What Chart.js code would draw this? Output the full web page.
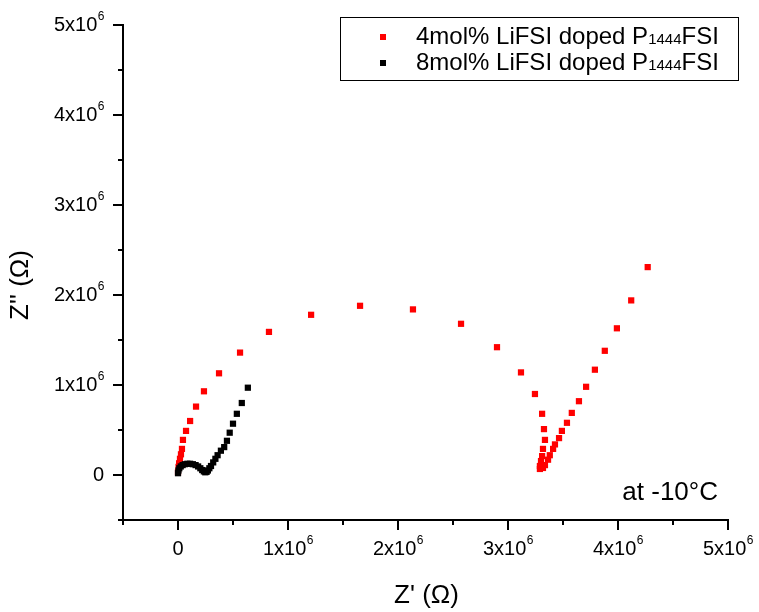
<!DOCTYPE html>
<html>
<head>
<meta charset="utf-8">
<script src="https://cdn.jsdelivr.net/npm/chart.js@4/dist/chart.umd.min.js"></script>
<style>
  body { margin: 0; background: #fff; }
</style>
</head>
<body>
<canvas id="nyquist" width="759" height="612"></canvas>
<script>
// 4mol% LiFSI doped P1444FSI, Z' and Z'' in ohm
var redZre = [0.000e6, 0.005e6, 0.010e6, 0.018e6, 0.027e6, 0.036e6, 0.045e6, 0.073e6, 0.110e6, 0.164e6,
              0.236e6, 0.373e6, 0.564e6, 0.827e6, 1.210e6, 1.655e6, 2.136e6, 2.573e6, 2.900e6, 3.118e6,
              3.245e6, 3.310e6, 3.327e6, 3.336e6, 3.318e6, 3.310e6, 3.300e6, 3.290e6, 3.290e6, 3.318e6,
              3.336e6, 3.364e6, 3.380e6, 3.410e6, 3.427e6, 3.464e6, 3.490e6, 3.536e6, 3.580e6, 3.645e6,
              3.710e6, 3.790e6, 3.880e6, 3.990e6, 4.120e6, 4.270e6];
var redZim = [0.030e6, 0.090e6, 0.130e6, 0.180e6, 0.230e6, 0.290e6, 0.390e6, 0.490e6, 0.600e6, 0.760e6,
              0.930e6, 1.130e6, 1.360e6, 1.590e6, 1.780e6, 1.880e6, 1.840e6, 1.680e6, 1.420e6, 1.140e6,
              0.900e6, 0.680e6, 0.510e6, 0.390e6, 0.290e6, 0.210e6, 0.155e6, 0.100e6, 0.067e6, 0.078e6,
              0.110e6, 0.170e6, 0.220e6, 0.290e6, 0.340e6, 0.410e6, 0.490e6, 0.580e6, 0.690e6, 0.820e6,
              0.980e6, 1.170e6, 1.380e6, 1.630e6, 1.940e6, 2.310e6];

// 8mol% LiFSI doped P1444FSI
var blackZre = [0.000e6, 0.004e6, 0.012e6, 0.025e6, 0.042e6, 0.062e6, 0.085e6, 0.110e6, 0.135e6, 0.160e6,
                0.183e6, 0.203e6, 0.220e6, 0.235e6, 0.248e6, 0.260e6, 0.272e6, 0.285e6, 0.300e6, 0.320e6,
                0.340e6, 0.360e6, 0.390e6, 0.420e6, 0.445e6, 0.470e6, 0.500e6, 0.535e6, 0.580e6, 0.635e6];
var blackZim = [0.020e6, 0.050e6, 0.075e6, 0.095e6, 0.110e6, 0.120e6, 0.125e6, 0.125e6, 0.120e6, 0.110e6,
                0.095e6, 0.075e6, 0.055e6, 0.040e6, 0.030e6, 0.035e6, 0.050e6, 0.075e6, 0.100e6, 0.140e6,
                0.180e6, 0.220e6, 0.270e6, 0.310e6, 0.380e6, 0.470e6, 0.570e6, 0.680e6, 0.800e6, 0.970e6];

var seriesLabels = ['4mol% LiFSI doped P', '8mol% LiFSI doped P'];
var seriesSub = '1444';
var seriesTail = 'FSI';
var axisMin = -0.5e6, axisMax = 5e6, axisStep = 0.5e6;
var xTitle = "Z' (\u03A9)", yTitle = "Z'' (\u03A9)";
var note = 'at -10\u00B0C';

function toPoints(xs, ys) {
    var pts = [];
    for (var i = 0; i < xs.length; i++) pts.push({x: xs[i], y: ys[i]});
    return pts;
}

var FONT = '"Liberation Sans", Arial, sans-serif';

function isMajor(v) { return Math.abs(v % 1e6) < 1; }

function drawSci(ctx, v, x, y, align) {
    var m = Math.round(v / 1e6);
    ctx.textBaseline = 'middle';
    ctx.textAlign = 'left';
    ctx.font = '20px ' + FONT;
    if (m === 0) {
        var w0 = ctx.measureText('0').width;
        ctx.fillText('0', align === 'right' ? x - w0 : x - w0 / 2, y);
        return;
    }
    var base = m + 'x10';
    var wb = ctx.measureText(base).width;
    ctx.font = '12px ' + FONT;
    var ws = ctx.measureText('6').width;
    var start = align === 'right' ? x - wb - ws : x - (wb + ws) / 2;
    ctx.font = '20px ' + FONT;
    ctx.fillText(base, start, y);
    ctx.font = '12px ' + FONT;
    ctx.fillText('6', start + wb + 0.5, y - 8);
}

var extras = {
    id: 'extras',
    afterDraw: function(chart) {
        var ctx = chart.ctx;
        var xs = chart.scales.x, ys = chart.scales.y;
        ctx.save();
        ctx.strokeStyle = '#000';
        ctx.fillStyle = '#000';
        ctx.lineWidth = 2;

        // tick marks: long at whole millions, short in between
        ctx.beginPath();
        xs.ticks.forEach(function(t) {
            var px = Math.round(xs.getPixelForValue(t.value));
            ctx.moveTo(px, ys.bottom);
            ctx.lineTo(px, ys.bottom + (isMajor(t.value) ? 10 : 5));
        });
        ys.ticks.forEach(function(t) {
            var py = Math.round(ys.getPixelForValue(t.value));
            ctx.moveTo(xs.left, py);
            ctx.lineTo(xs.left - (isMajor(t.value) ? 10 : 5), py);
        });
        ctx.stroke();

        xs.ticks.forEach(function(t) {
            if (isMajor(t.value)) drawSci(ctx, t.value, xs.getPixelForValue(t.value), ys.bottom + 29, 'center');
        });
        ys.ticks.forEach(function(t) {
            if (isMajor(t.value)) drawSci(ctx, t.value, xs.left - 19, ys.getPixelForValue(t.value), 'right');
        });

        // axis titles
        ctx.font = '26px ' + FONT;
        ctx.textAlign = 'center';
        ctx.textBaseline = 'middle';
        ctx.fillText(xTitle, (xs.left + xs.right) / 2 + 1, 596);
        ctx.save();
        ctx.translate(21, 285);
        ctx.rotate(-Math.PI / 2);
        ctx.fillText(yTitle, 0, 0);
        ctx.restore();

        // legend box
        var bx = 340, by = 17, bw = 398, bh = 63;
        ctx.lineWidth = 1;
        ctx.strokeRect(bx + 0.5, by + 0.5, bw, bh);
        chart.data.datasets.forEach(function(ds, i) {
            var ry = by + 20 + i * 26;
            ctx.fillStyle = ds.backgroundColor;
            ctx.fillRect(380, ry - 3, 6, 6);
            ctx.fillStyle = '#000';
            ctx.textBaseline = 'middle';
            ctx.textAlign = 'left';
            ctx.font = '24px ' + FONT;
            var tx = 416;
            ctx.fillText(seriesLabels[i], tx, ry);
            tx += ctx.measureText(seriesLabels[i]).width;
            ctx.font = '15px ' + FONT;
            ctx.fillText(seriesSub, tx, ry + 3);
            tx += ctx.measureText(seriesSub).width;
            ctx.font = '24px ' + FONT;
            ctx.fillText(seriesTail, tx, ry);
        });

        ctx.font = '26px ' + FONT;
        ctx.textAlign = 'right';
        ctx.fillText(note, 718, 493);
        ctx.restore();
    }
};

var axisCommon = {
    type: 'linear',
    min: axisMin,
    max: axisMax,
    ticks: { display: false, stepSize: axisStep },
    grid: { display: false },
    border: { display: true, color: '#000', width: 2 }
};

new Chart(document.getElementById('nyquist').getContext('2d'), {
    type: 'scatter',
    data: {
        datasets: [
            {
                label: '4mol% LiFSI doped P1444FSI',
                data: toPoints(redZre, redZim),
                backgroundColor: '#ff0000',
                pointStyle: 'rect',
                pointRadius: 4.4,
                pointBorderWidth: 0,
                order: 1
            },
            {
                label: '8mol% LiFSI doped P1444FSI',
                data: toPoints(blackZre, blackZim),
                backgroundColor: '#000000',
                pointStyle: 'rect',
                pointRadius: 4.4,
                pointBorderWidth: 0,
                order: 0
            }
        ]
    },
    options: {
        responsive: false,
        animation: false,
        layout: { padding: { left: 0, right: 31, top: 25, bottom: 0 } },
        plugins: { legend: { display: false }, tooltip: { enabled: false } },
        scales: {
            x: Object.assign({}, axisCommon, {
                afterFit: function(s) { s.height = 92; }
            }),
            y: Object.assign({}, axisCommon, {
                afterFit: function(s) { s.width = 123; }
            })
        }
    },
    plugins: [extras]
});
</script>
</body>
</html>
